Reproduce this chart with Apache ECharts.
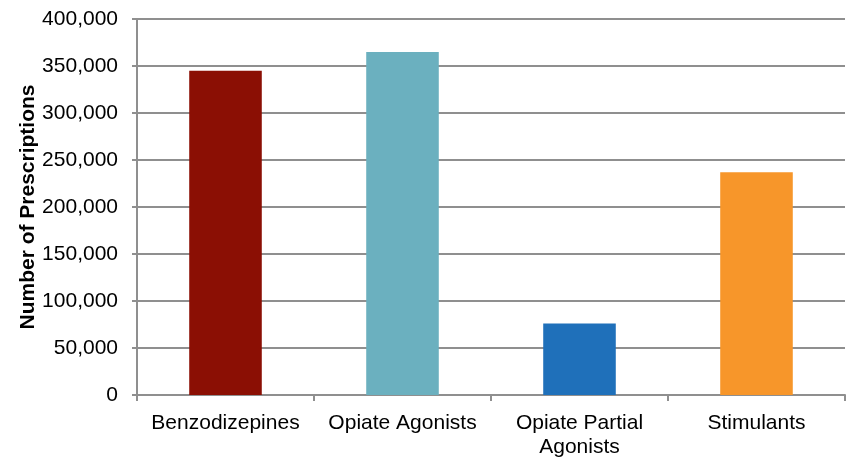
<!DOCTYPE html>
<html>
<head>
<meta charset="utf-8">
<script src="https://cdn.jsdelivr.net/npm/echarts@6/dist/echarts.min.js"></script>
<style>
    html, body { margin: 0; padding: 0; background: #fff; }
    #main { width: 848px; height: 459px; }
</style>
</head>
<body>
<div id="main"></div>
<script>
// data
var categories = ['Benzodizepines', 'Opiate Agonists', 'Opiate Partial\nAgonists', 'Stimulants'];
var prescriptions = [345000, 365000, 76000, 237000];
var barColors = ['#8b0f04', '#6bb0bf', '#1f70ba', '#f7962a'];

var chartDom = document.getElementById('main');
var myChart = echarts.init(chartDom);
var option;

var gridGray = '#8f8f8f';
var font = 'Liberation Sans, Arial, sans-serif';

option = {
    animation: false,
    grid: {
        left: 137,
        right: 3,
        top: 19,
        bottom: 60
    },
    xAxis: {
        type: 'category',
        data: categories,
        axisLine: { lineStyle: { color: gridGray, width: 2 } },
        axisTick: { show: true, length: 6, lineStyle: { color: gridGray, width: 2 } },
        axisLabel: {
            color: '#000',
            fontFamily: font,
            fontSize: 21,
            lineHeight: 24,
            margin: 16,
            interval: 0
        }
    },
    yAxis: {
        type: 'value',
        min: 0,
        max: 400000,
        interval: 50000,
        name: 'Number of Prescriptions',
        nameLocation: 'middle',
        nameRotate: 90,
        nameGap: 98,
        nameMoveOverlap: false,
        nameTextStyle: {
            color: '#000',
            fontFamily: font,
            fontSize: 21,
            fontWeight: 'bold'
        },
        axisLine: { show: true, lineStyle: { color: gridGray, width: 2 } },
        axisTick: { show: true, length: 5, lineStyle: { color: gridGray, width: 2 } },
        splitLine: { lineStyle: { color: gridGray, width: 2 } },
        axisLabel: {
            color: '#000',
            fontFamily: font,
            fontSize: 21,
            margin: 19,
            formatter: function (v) {
                return v.toLocaleString('en-US');
            }
        }
    },
    series: [
        {
            type: 'bar',
            barWidth: '41%',
            data: prescriptions.map(function (v, i) {
                return { value: v, itemStyle: { color: barColors[i] } };
            })
        }
    ]
};
option && myChart.setOption(option);
</script>
</body>
</html>
